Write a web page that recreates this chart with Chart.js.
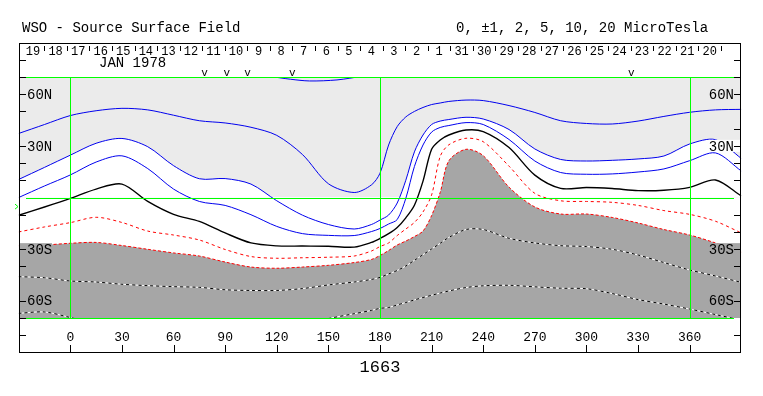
<!DOCTYPE html>
<html>
<head>
<meta charset="utf-8">
<script src="https://cdn.jsdelivr.net/npm/chart.js@4"></script>
<style>
  html, body { margin: 0; padding: 0; background: #fff; }
</style>
</head>
<body>
<canvas id="chart" width="763" height="396"></canvas>
<script>
// Carrington longitude of every sample (deg), shared by all contour lines
const lon = [-30, -15, 0, 15, 30, 45, 60, 75, 90, 105, 120, 135, 150, 165,
  175, 180, 185, 190, 195, 200, 205, 210, 215, 220,
  230, 240, 255, 270, 285, 300, 315, 330, 345, 360, 375, 390];

// contour latitudes (deg), one value per longitude above
const blueOuter = [37.2, 42.4, 47.6, 50.4, 51.8, 50.9, 47.8, 44.6, 43.3, 40.8, 36.1, 24.9, 8, 2.9,
  7.3, 14.1, 30.5, 41.2, 46.8, 50, 52.3, 54, 54.9, 55.8,
  56.6, 56.3, 53.4, 49.4, 44.6, 43, 42.7, 44.4, 47.1, 49.5, 50.9, 51.2];
const blueMid = [10.5, 17.5, 24.6, 31.5, 34.3, 29.5, 18.5, 10.9, 11, 7.8, -1.9, -10.3, -15.7, -18.3,
  -15.7, -13.1, -10.2, -3.2, 10, 26.5, 36.3, 42.4, 44.4, 45.3,
  46.6, 45.6, 39.5, 28.2, 22.1, 21.2, 21.6, 22.4, 24.1, 31.1, 33.6, 22.7];
const blueInner = [0, 6.7, 13.1, 20.6, 24.2, 16.8, 4.9, -2.3, -4.6, -10, -16.8, -21, -22, -22.1,
  -19.8, -18, -15.4, -12.8, -0.5, 18, 30.5, 38, 40.7, 41.8,
  43.5, 42.4, 33.7, 21.2, 14.5, 13.5, 13.7, 14.8, 16.6, 21.4, 25.9, 15.4];
const neutralLine = [-10.3, -5.5, -0.5, 4.9, 7.8, -2.3, -9.8, -13.9, -20.6, -26.4, -28.1, -28.2, -28.3, -28.8,
  -26.1, -23.8, -21, -17.4, -11.8, -4.5, 9.5, 28, 33.4, 36.3,
  39.2, 38.3, 29, 13, 5.3, 5.8, 5.2, 4, 4.2, 5.9, 10.2, 0.9];
const redOuter = [-20, -17.1, -14.6, -11.5, -14.5, -19.5, -21.8, -24.7, -30.2, -34.3, -35.3, -35, -34.7, -34,
  -31.1, -28.5, -26.4, -22.1, -18.3, -14.5, -8.4, 1.5, 23.9, 30.6,
  34.4, 32.4, 18.2, 2.4, -1.9, -2.3, -2.8, -4.6, -7.6, -9.8, -13.8, -20.6];
const redInner = [-28, -27.6, -26.6, -26.1, -27.9, -30.1, -32.2, -34, -37.5, -40.4, -41.1, -40.4, -39.4, -37.8,
  -36, -33.7, -30.8, -27.6, -25.3, -22.7, -19.5, -10.5, 3, 21.3,
  28, 24.3, 6, -5.5, -9.6, -9.6, -11.6, -14.8, -18.6, -21.8, -26.4, -31.7];
const dashUpper = [-46, -46.6, -48.5, -49.1, -50.4, -51.2, -51.8, -52.2, -53.6, -54, -54, -52.9, -50.8, -49.1,
  -47.6, -46.4, -44.4, -42.4, -39.8, -36.5, -33.2, -29.9, -26.6, -23.2,
  -18.6, -18.6, -23.7, -26.4, -28, -28.5, -30.1, -33.4, -37.8, -42.1, -45.6, -49.3];
const dashLower = [-67.3, -66.5, -69.7, -73, -75, -75, -75, -75, -75, -75, -75, -73.5, -70.3, -67.5,
  -65.6, -64.4, -63.9, -62.4, -61, -59.5, -58.1, -56.8, -55.5, -54.3,
  -52.3, -51.3, -51, -51.9, -52.7, -53, -55.8, -59.3, -61.9, -64.8, -68, -71.2];

// small closed contour touching the top edge
const capLon = [115, 128, 139, 155, 170];
const capLat = [70.5, 68.7, 67.7, 68.3, 70.5];

// axes and annotations
const xTicks = [0, 30, 60, 90, 120, 150, 180, 210, 240, 270, 300, 330, 360];
const latLabelValues = [60, 30, -30, -60];
const latLabelText = ["60N", "30N", "30S", "60S"];
const leftTickLats = [60, 50, 30, 20, 10, -10, -30, -40, -60];
const rightTickLats = [60, 40, 30, 20, 10, -10, -20, -30, -40, -60];
const dayLabels = [19, 18, 17, 16, 15, 14, 13, 12, 11, 10, 9, 8, 7, 6, 5, 4, 3, 2, 1,
  31, 30, 29, 28, 27, 26, 25, 24, 23, 22, 21, 20];
const dayStart = -15.1;   // longitude of first day separator
const dayStep = 13.11;    // degrees per day
const gapMarks = [78, 91, 103, 129, 326];
const b0Angle = -5.3;
const rotation = "1663";

const LIGHT = "#ebebeb";
const DARK = "#a6a6a6";
const GREEN = "#00ff00";
const MONO = "'Liberation Mono', 'DejaVu Sans Mono', monospace";

const pts = (ys, xs = lon) => xs.map((x, i) => ({ x: x, y: ys[i] }));

function contour(ys, color, extra) {
  return Object.assign({
    data: pts(ys),
    borderColor: color,
    borderWidth: 1,
    pointRadius: 0,
    fill: false,
    tension: 0.3,
    order: 1,
  }, extra);
}

const datasets = [
  contour(blueMid, "#0000ee", { fill: { value: 0 }, backgroundColor: "#ffffff", order: 10 }),
  contour(redInner, "#ff0000", { fill: "start", backgroundColor: DARK, borderDash: [3, 2], order: 9 }),
  contour(blueOuter, "#0000ee"),
  contour(blueInner, "#0000ee"),
  contour(neutralLine, "#000000", { borderWidth: 1.4 }),
  contour(redOuter, "#ff0000", { borderDash: [3, 3] }),
  contour(dashUpper, "#ffffff", { order: 3 }),
  contour(dashUpper, "#000000", { borderDash: [3, 3], order: 2 }),
  contour(dashLower, "#ffffff", { order: 3 }),
  contour(dashLower, "#000000", { borderDash: [3, 3], order: 2 }),
  Object.assign(contour([], "#0000ee"), { data: pts(capLat, capLon) }),
];

function hline(ctx, x1, x2, y) {
  ctx.beginPath();
  ctx.moveTo(x1, y);
  ctx.lineTo(x2, y);
  ctx.stroke();
}
function vline(ctx, x, y1, y2) {
  ctx.beginPath();
  ctx.moveTo(x, y1);
  ctx.lineTo(x, y2);
  ctx.stroke();
}

const frameLeft = 19.5, frameRight = 740.5, frameTop = 43.5, frameBottom = 352.5;

const wsoPlugin = {
  id: "wso",
  beforeDatasetsDraw(chart) {
    const { ctx, scales } = chart;
    const top = scales.y.getPixelForValue(70);
    const eq = scales.y.getPixelForValue(0);
    ctx.save();
    ctx.fillStyle = LIGHT;
    ctx.fillRect(20, top, 720, eq - top);
    ctx.restore();
  },
  afterDatasetsDraw(chart) {
    const { ctx, scales } = chart;
    const X = (v) => scales.x.getPixelForValue(v);
    const Y = (v) => scales.y.getPixelForValue(v);
    ctx.save();
    ctx.lineWidth = 1;
    // green grid
    ctx.strokeStyle = GREEN;
    [70, 0, -70].forEach((lat) => hline(ctx, 26, 734, Math.round(Y(lat)) + 0.5));
    [0, 180, 360].forEach((l) => vline(ctx, Math.round(X(l)) + 0.5, Y(70), Y(-70)));

    // latitude labels with their boxes
    ctx.font = "14px " + MONO;
    ctx.textBaseline = "middle";
    const leftBg = [LIGHT, LIGHT, DARK, DARK];
    const rightBg = [LIGHT, "#ffffff", DARK, DARK];
    latLabelValues.forEach((lat, i) => {
      const y = Y(lat);
      ctx.fillStyle = leftBg[i];
      ctx.fillRect(20, y - 6, 32, 12);
      ctx.fillStyle = rightBg[i];
      ctx.fillRect(708, y - 6, 32, 12);
      ctx.fillStyle = "#000";
      ctx.textAlign = "left";
      ctx.fillText(latLabelText[i], 27, y + 1);
      ctx.textAlign = "right";
      ctx.fillText(latLabelText[i], 734, y + 1);
    });

    // latitude ticks
    ctx.strokeStyle = "#000";
    leftTickLats.forEach((lat) => hline(ctx, 20, 26, Math.round(Y(lat)) + 0.5));
    rightTickLats.forEach((lat) => hline(ctx, 734, 740, Math.round(Y(lat)) + 0.5));
    hline(ctx, 20, 26, Math.round(Y(-70)) + 0.5);

    // B0 marker
    ctx.strokeStyle = GREEN;
    const by = Y(b0Angle);
    ctx.beginPath();
    ctx.moveTo(15, by - 2.5);
    ctx.lineTo(18, by);
    ctx.lineTo(15, by + 2.5);
    ctx.stroke();
    ctx.restore();
  },
  afterDraw(chart) {
    const { ctx, scales } = chart;
    const X = (v) => scales.x.getPixelForValue(v);
    ctx.save();
    ctx.strokeStyle = "#000";
    ctx.fillStyle = "#000";
    ctx.lineWidth = 1;
    ctx.strokeRect(frameLeft, frameTop, frameRight - frameLeft, frameBottom - frameTop);

    // title line
    ctx.font = "14px " + MONO;
    ctx.textBaseline = "alphabetic";
    ctx.textAlign = "left";
    ctx.fillText("WSO - Source Surface Field", 22, 31.5);
    ctx.fillText("0, \u00b11, 2, 5, 10, 20 MicroTesla", 456, 31.5);

    // Carrington day row
    ctx.font = "12px " + MONO;
    ctx.textAlign = "center";
    dayLabels.forEach((d, i) => {
      ctx.fillText(String(d), X(dayStart + (i - 0.5) * dayStep), 55);
      vline(ctx, Math.round(X(dayStart + i * dayStep)) + 0.5, 46, 51);
    });
    ctx.font = "14px " + MONO;
    ctx.textAlign = "left";
    ctx.fillText("JAN 1978", 99, 66.5);

    // data gap marks
    ctx.font = "11px " + MONO;
    ctx.textAlign = "center";
    gapMarks.forEach((g) => ctx.fillText("v", X(g), 76));

    // frame ticks
    [60.5, 77.5, 335.5].forEach((y) => {
      hline(ctx, 20, 26, y);
      hline(ctx, 734, 740, y);
    });

    // longitude axis
    ctx.font = "13px " + MONO;
    ctx.textBaseline = "middle";
    xTicks.forEach((t) => {
      const x = Math.round(X(t)) + 0.5;
      vline(ctx, x, 345, 352);
      ctx.fillText(String(t), X(t), 337.5);
    });

    ctx.font = "17px " + MONO;
    ctx.textBaseline = "alphabetic";
    ctx.fillText(rotation, 380, 372);
    ctx.restore();
  },
};

new Chart(document.getElementById("chart").getContext("2d"), {
  type: "line",
  data: { datasets: datasets },
  options: {
    responsive: false,
    animation: false,
    devicePixelRatio: 1,
    events: [],
    layout: { padding: { left: 18.7, right: 21.7, top: 77, bottom: 78 } },
    scales: {
      x: { type: "linear", min: -30, max: 390, display: false },
      y: { type: "linear", min: -70, max: 70, display: false },
    },
    plugins: {
      legend: { display: false },
      tooltip: { enabled: false },
    },
  },
  plugins: [wsoPlugin],
});
</script>
</body>
</html>
